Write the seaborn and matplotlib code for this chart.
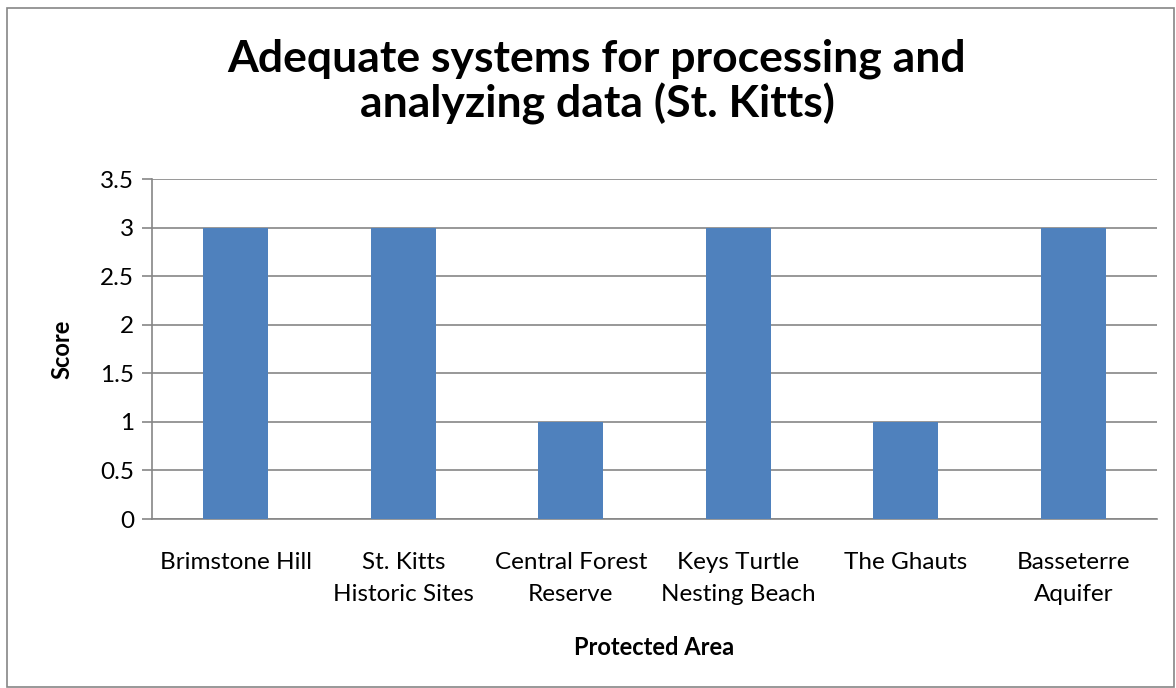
import matplotlib
matplotlib.use("Agg")
import matplotlib.pyplot as plt
import pandas as pd
import seaborn as sns
from matplotlib.patches import Rectangle

# chart data
areas = ["Brimstone Hill", "St. Kitts\nHistoric Sites", "Central Forest\nReserve",
         "Keys Turtle\nNesting Beach", "The Ghauts", "Basseterre\nAquifer"]
scores = [3, 3, 1, 3, 1, 3]
y_ticks = [0, 0.5, 1, 1.5, 2, 2.5, 3, 3.5]
y_tick_labels = ["0", "0.5", "1", "1.5", "2", "2.5", "3", "3.5"]

df = pd.DataFrame({"area": areas, "score": scores})

sns.set_style("white")
plt.rcParams["font.family"] = ["Lato", "DejaVu Sans"]
plt.rcParams["text.color"] = "black"
plt.rcParams["axes.labelcolor"] = "black"

fig = plt.figure(figsize=(11.76, 6.88), dpi=100)
ax = fig.add_axes([152 / 1176, 1 - 519 / 688, (1157 - 152) / 1176, (519 - 179) / 688])

sns.barplot(data=df, x="area", y="score", color="#4F81BD", saturation=1,
            width=0.39, linewidth=0, ax=ax, zorder=3)

grid_col = "#868686"
ax.set_ylim(0, 3.5)
ax.set_xlim(-0.5, len(areas) - 0.5)
ax.set_yticks(y_ticks)
ax.set_yticklabels(y_tick_labels)
ax.yaxis.grid(True, color=grid_col, linewidth=1.2, zorder=0)
ax.set_axisbelow(True)

for side in ["top", "right"]:
    ax.spines[side].set_visible(False)
for side in ["left", "bottom"]:
    ax.spines[side].set_color(grid_col)
    ax.spines[side].set_linewidth(1.2)

ax.tick_params(axis="y", length=7, width=1.2, color=grid_col, left=True,
               labelsize=17.5, pad=6, labelcolor="black")
ax.tick_params(axis="x", length=0, labelsize=17.5, pad=24, labelcolor="black")
for lbl in ax.get_xticklabels():
    lbl.set_linespacing(1.65)

ax.set_xlabel("Protected Area", fontsize=17, fontweight="bold", labelpad=22)
ax.set_ylabel("Score", fontsize=17, fontweight="bold", labelpad=19)

fig.text(597 / 1176, 1 - 82 / 688,
         "Adequate systems for processing and\nanalyzing data (St. Kitts)",
         ha="center", va="center", fontsize=32, fontweight="bold",
         linespacing=1.12)

# outer chart border
fig.patches.append(Rectangle((7 / 1176, 0.002), 1 - 9 / 1176, 1 - 9 / 688,
                             transform=fig.transFigure, fill=False,
                             edgecolor=grid_col, linewidth=1.2))

fig.savefig("out.png", dpi=100, facecolor="white")
